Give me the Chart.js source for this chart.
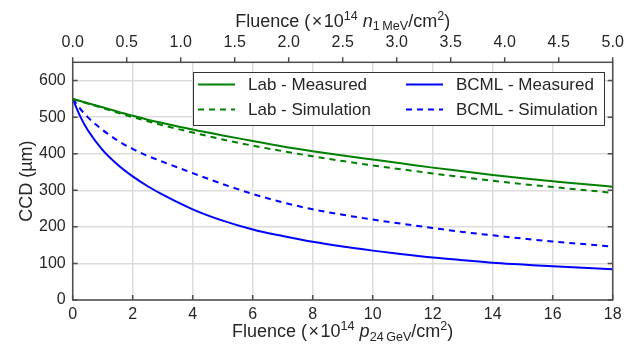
<!DOCTYPE html>
<html>
<head>
<meta charset="utf-8">
<script src="https://cdn.jsdelivr.net/npm/chart.js@4"></script>
<style>
  html, body { margin: 0; padding: 0; background: #fff; }
  #wrap { width: 635px; height: 347px; }
</style>
</head>
<body>
<div id="wrap"><canvas id="ccdChart" width="635" height="347"></canvas></div>
<script>
// fluence in 1e14 p(24 GeV)/cm2
const fluence = [0, 0.25, 0.5, 1, 1.5, 2, 2.5, 3, 4, 5, 6, 7, 8, 9, 10, 11, 12, 13, 14, 15, 16, 17, 18];
const labMeasured  = [550, 544, 538, 527, 515, 504, 493, 484, 466, 450, 435, 420, 407, 395, 384, 373, 362, 352, 342, 333, 325, 317, 310];
const labSim       = [550, 543, 537, 525, 512, 500, 489, 478, 458, 439, 422, 407, 393, 380, 368, 357, 346, 336, 326, 317, 309, 301, 293];
const bcmlMeasured = [550, 502, 465, 410, 370, 338, 311, 288, 248, 217, 193, 175, 159, 146, 135, 125, 116, 109, 102, 97, 92, 88, 84];
const bcmlSim      = [550, 523, 500, 465, 436, 413, 394, 378, 347, 317, 290, 267, 248, 233, 220, 208, 197, 186, 177, 168, 160, 153, 146];

const bottomTicks = [0, 2, 4, 6, 8, 10, 12, 14, 16, 18];
const topTicks = [0, 0.5, 1, 1.5, 2, 2.5, 3, 3.5, 4, 4.5, 5];
const yTicks = [0, 100, 200, 300, 400, 500, 600];

const GREEN = '#008000';
const BLUE = '#0000ff';
const TXT = '#262626';
const FAM = '"Liberation Sans", Arial, sans-serif';

function pts(ys) {
  return fluence.map((x, i) => ({ x: x, y: ys[i] }));
}

// draw a label made of pieces (normal / italic / super / sub)
function drawRich(ctx, parts, size) {
  let w = 0;
  parts.forEach(p => {
    const s = p.k === 'sup' || p.k === 'sub' ? size * 0.7 : size;
    ctx.font = (p.k === 'it' ? 'italic ' : '') + s + 'px ' + FAM;
    p.w = ctx.measureText(p.t).width;
    p.s = s;
    w += p.w;
  });
  let x = -w / 2;
  parts.forEach(p => {
    ctx.font = (p.k === 'it' ? 'italic ' : '') + p.s + 'px ' + FAM;
    let dy = 0;
    if (p.k === 'sup') dy = -size * 0.38;
    if (p.k === 'sub') dy = size * 0.2;
    ctx.fillText(p.t, x, dy);
    x += p.w;
  });
}

const decor = {
  id: 'decor',
  afterDatasetsDraw(chart) {
    const ctx = chart.ctx;
    const a = chart.chartArea;
    const sx = chart.scales.x, sx2 = chart.scales.x2, sy = chart.scales.y;
    ctx.save();

    // frame and ticks
    ctx.strokeStyle = '#4d4d4d';
    ctx.lineWidth = 1.5;
    ctx.strokeRect(a.left, a.top, a.right - a.left, a.bottom - a.top);
    ctx.beginPath();
    bottomTicks.forEach(v => {
      const px = sx.getPixelForValue(v);
      ctx.moveTo(px, a.bottom); ctx.lineTo(px, a.bottom - 5);
    });
    topTicks.forEach(v => {
      const px = sx2.getPixelForValue(v);
      ctx.moveTo(px, a.top); ctx.lineTo(px, a.top - 5);
    });
    yTicks.forEach(v => {
      const py = sy.getPixelForValue(v);
      ctx.moveTo(a.left, py); ctx.lineTo(a.left + 5, py);
      ctx.moveTo(a.right, py); ctx.lineTo(a.right - 5, py);
    });
    ctx.stroke();

    // legend box
    const lx = 193, ly = 72, lw = 411, lh = 53;
    ctx.fillStyle = '#fff';
    ctx.fillRect(lx, ly, lw, lh);
    ctx.strokeStyle = '#333';
    ctx.lineWidth = 1;
    ctx.strokeRect(lx + 0.5, ly + 0.5, lw, lh);
    const items = [
      { t: 'Lab - Measured', c: GREEN, d: [], x: 198, y: 84.5 },
      { t: 'Lab - Simulation', c: GREEN, d: [6, 5], x: 198, y: 109.5 },
      { t: 'BCML - Measured', c: BLUE, d: [], x: 406, y: 84.5 },
      { t: 'BCML - Simulation', c: BLUE, d: [6, 5], x: 406, y: 109.5 }
    ];
    ctx.font = '17px ' + FAM;
    ctx.textBaseline = 'middle';
    items.forEach(it => {
      ctx.strokeStyle = it.c;
      ctx.lineWidth = 2;
      ctx.setLineDash(it.d);
      ctx.beginPath();
      ctx.moveTo(it.x, it.y); ctx.lineTo(it.x + 37, it.y);
      ctx.stroke();
      ctx.setLineDash([]);
      ctx.fillStyle = TXT;
      ctx.fillText(it.t, it.x + 50, it.y + 1);
    });

    // axis titles
    const cx = (a.left + a.right) / 2;
    ctx.fillStyle = TXT;
    ctx.textBaseline = 'alphabetic';
    ctx.save();
    ctx.translate(cx, 26.5);
    drawRich(ctx, [
      { t: 'Fluence (\u200a\u00d7\u200a10' }, { t: '14', k: 'sup' }, { t: ' ' },
      { t: 'n', k: 'it' }, { t: '1\u2009MeV', k: 'sub' }, { t: '/cm' },
      { t: '2', k: 'sup' }, { t: ')' }
    ], 18);
    ctx.restore();
    ctx.save();
    ctx.translate(cx, 337);
    drawRich(ctx, [
      { t: 'Fluence (\u200a\u00d7\u200a10' }, { t: '14', k: 'sup' }, { t: ' ' },
      { t: 'p', k: 'it' }, { t: '24\u2009GeV', k: 'sub' }, { t: '/cm' },
      { t: '2', k: 'sup' }, { t: ')' }
    ], 18);
    ctx.restore();
    ctx.save();
    ctx.translate(31.5, (a.top + a.bottom) / 2);
    ctx.rotate(-Math.PI / 2);
    drawRich(ctx, [{ t: 'CCD (\u00b5m)' }], 18);
    ctx.restore();

    ctx.restore();
  }
};

const tickFont = { family: FAM, size: 16 };
const gridStyle = { color: '#dcdcdc', lineWidth: 1.5, drawTicks: false };

new Chart(document.getElementById('ccdChart'), {
  type: 'line',
  data: {
    datasets: [
      { label: 'Lab - Measured', data: pts(labMeasured), borderColor: GREEN, borderWidth: 2 },
      { label: 'Lab - Simulation', data: pts(labSim), borderColor: GREEN, borderWidth: 2, borderDash: [6, 5] },
      { label: 'BCML - Measured', data: pts(bcmlMeasured), borderColor: BLUE, borderWidth: 2 },
      { label: 'BCML - Simulation', data: pts(bcmlSim), borderColor: BLUE, borderWidth: 2, borderDash: [6, 5] }
    ]
  },
  options: {
    responsive: false,
    animation: false,
    events: [],
    layout: { padding: { right: 22.3, left: 0, top: 0, bottom: 0 } },
    elements: {
      point: { radius: 0 },
      line: { cubicInterpolationMode: 'monotone', fill: false }
    },
    plugins: { legend: { display: false }, tooltip: { enabled: false } },
    scales: {
      x: {
        type: 'linear', position: 'bottom', min: 0, max: 18,
        afterBuildTicks: s => { s.ticks = bottomTicks.map(v => ({ value: v })); },
        afterFit: s => { s.height = 47; },
        ticks: { font: tickFont, color: TXT, padding: 5, maxRotation: 0 },
        grid: gridStyle,
        border: { display: false }
      },
      x2: {
        type: 'linear', position: 'top', min: 0, max: 5,
        afterBuildTicks: s => { s.ticks = topTicks.map(v => ({ value: v })); },
        afterFit: s => { s.height = 62.3; },
        ticks: { font: tickFont, color: TXT, padding: 10, maxRotation: 0, callback: v => v.toFixed(1) },
        grid: { display: false, drawTicks: false },
        border: { display: false }
      },
      y: {
        type: 'linear', min: 0, max: 650,
        afterBuildTicks: s => { s.ticks = yTicks.map(v => ({ value: v })); },
        afterFit: s => { s.width = 72.7; },
        ticks: { font: tickFont, color: TXT, padding: 7 },
        grid: gridStyle,
        border: { display: false }
      }
    }
  },
  plugins: [decor]
});
</script>
</body>
</html>
